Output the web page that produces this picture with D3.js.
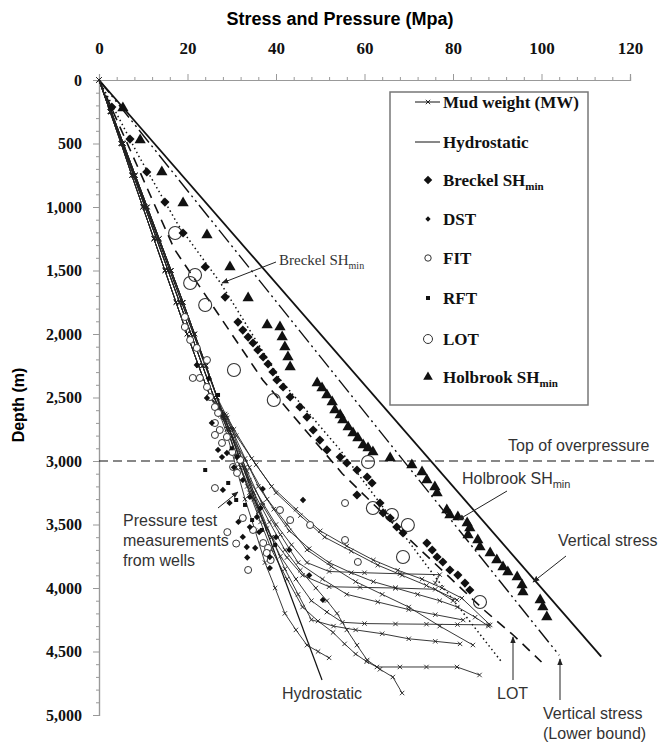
<!DOCTYPE html>
<html>
<head>
<meta charset="utf-8">
<script src="https://cdn.jsdelivr.net/npm/d3@7"></script>
<style>
  body { margin: 0; background: #fff; }
  svg { display: block; }
</style>
</head>
<body>
<svg width="661" height="742"></svg>
<script>
// stress / pressure vs depth chart
// axis values
const xTicks = [0, 20, 40, 60, 80, 100, 120];
const xMinor = [4, 8, 12, 16, 24, 28, 32, 36, 44, 48, 52, 56, 64, 68, 72, 76, 84, 88, 92, 96, 104, 108, 112, 116];
const yTicks = [0, 500, 1000, 1500, 2000, 2500, 3000, 3500, 4000, 4500, 5000];
const yMinor = [100, 200, 300, 400, 600, 700, 800, 900, 1100, 1200, 1300, 1400, 1600, 1700, 1800, 1900,
  2100, 2200, 2300, 2400, 2600, 2700, 2800, 2900, 3100, 3200, 3300, 3400, 3600, 3700, 3800, 3900,
  4100, 4200, 4300, 4400, 4600, 4700, 4800, 4900];

// trend lines [MPa, m]
const verticalStress = [[0, 0], [113.5, 4540]];
const verticalLower = [[0, 0], [104, 4530]];
const lotLine = [[0, 0], [17, 1330], [37, 2362], [55, 3100], [70.3, 3622], [87, 4173], [93.6, 4370], [100, 4583]];
const breckelLine = [[0, 0], [9, 600], [17.9, 1142], [27.5, 1600], [41, 2362], [54.5, 2913], [76.5, 3937], [91, 4583]];
const hydrostatic = [[0, 0], [50.4, 4724]];
const overpressureDepth = 3000;

// mud weight profiles: three shallow trunks + each well's deep part
const mwTopA = [[0, 0], [2.6, 250], [5.2, 500], [7.8, 750], [10.4, 1000], [13, 1250], [15.6, 1500], [18.2, 1750],
  [20.8, 2000], [23.4, 2250], [26, 2500]];
const mwTopB = [[0, 0], [2.8, 250], [5.5, 500], [8.2, 750], [10.9, 1000], [13.6, 1250], [16.3, 1500], [19, 1750],
  [21.6, 2000], [24.2, 2250], [26.7, 2500]];
const mwTopC = [[0, 0], [2.5, 250], [5, 500], [7.4, 750], [9.9, 1000], [12.4, 1250], [14.9, 1500], [17.4, 1750],
  [19.9, 2000], [22.5, 2250], [25.2, 2500]];
const mwTrunk = ['A', 'B', 'C', 'A', 'B', 'C', 'A', 'B', 'C', 'A', 'B', 'C'];
const mwWells = [
  [[28, 2650], [29.5, 2750], [31.5, 2950], [34, 3150], [37, 3330], [40, 3500], [43.5, 3660], [47, 3800], [52, 3870],
    [60, 3880], [68, 3888], [77, 3895], [76, 3960]],
  [[27.6, 2620], [29, 2750], [31, 2970], [33.5, 3200], [36, 3400], [39, 3600], [42.5, 3760], [46, 3900], [52, 3990],
    [59, 3995], [67, 4000], [76, 4010], [80, 4100]],
  [[28.2, 2640], [30, 2750], [33, 2980], [36, 3200], [39.5, 3380], [43, 3550], [47.5, 3690], [52, 3800], [57, 3880],
    [62, 3950], [67, 4000], [72, 4050], [77, 4100], [81, 4150], [85, 4230], [88, 4300]],
  [[27.8, 2650], [29.5, 2800], [32, 3050], [35, 3300], [38, 3530], [41, 3750], [44.5, 3930], [48, 4100], [51.5, 4190],
    [55, 4270], [60, 4280], [67, 4283], [74, 4285], [81, 4288], [88, 4290]],
  [[27.5, 2620], [29, 2750], [31.5, 3000], [34, 3250], [36.5, 3480], [39, 3700], [42.5, 3930], [46, 4150],
    [49.5, 4260], [52.9, 4350], [55.5, 4440], [58, 4520], [60.5, 4580], [62.8, 4622], [68, 4622], [74, 4622],
    [80.9, 4622], [86, 4685]],
  [[27.4, 2640], [29, 2800], [31, 3050], [33, 3300], [35.3, 3550], [37.5, 3800], [39.8, 4000], [42, 4200],
    [44.5, 4330], [47, 4450], [49.5, 4500], [52, 4550]],
  [[28, 2630], [29.5, 2750], [32, 3000], [35, 3250], [38.5, 3480], [42, 3700], [45.5, 3860], [49, 4000], [51.5, 4100],
    [53.8, 4200], [56, 4330], [58.3, 4450], [60.6, 4567], [63.5, 4640], [66.4, 4701], [68.5, 4827]],
  [[28.4, 2660], [30, 2800], [34, 3050], [38, 3300], [42.5, 3500], [47, 3700], [52.5, 3830], [58, 3950], [64, 4050],
    [70, 4150], [77, 4300], [84.5, 4449]],
  [[28.8, 2640], [30.5, 2750], [34.5, 2980], [39, 3200], [44.5, 3380], [50, 3550], [56, 3670], [62, 3780],
    [67.5, 3860], [73, 3930], [77.5, 4000], [82, 4080], [88.4, 4291]],
  [[28.3, 2660], [30, 2800], [33.5, 3080], [37, 3350], [41, 3580], [45, 3800], [50.5, 3930], [56, 4050], [63, 4110],
    [70, 4170], [76, 4210], [82.3, 4252]],
  [[29, 2660], [31, 2800], [35.5, 3030], [40, 3250], [45.5, 3430], [51, 3600], [57, 3710], [63, 3820], [68.5, 3900],
    [74, 3980], [80.9, 4094]],
  [[28.5, 2630], [30, 2750], [33, 3050], [36, 3350], [39, 3600], [42, 3850], [45, 4050], [48, 4250], [53, 4300],
    [58, 4330], [64, 4360], [70, 4400], [76, 4420], [81.6, 4440]]
];

// point data [MPa, m]
const breckelPts = [[2.9, 213], [7.0, 465], [10.8, 724], [14.9, 961], [19.0, 1205], [24.0, 1472], [28.5, 1709],
  [31.4, 1906], [32.5, 1969], [33.7, 2024], [34.8, 2071], [35.9, 2126], [37.1, 2181], [38.2, 2236], [39.3, 2299],
  [40.2, 2362], [41.6, 2417], [43.2, 2496], [45.4, 2575], [47.0, 2654], [48.4, 2756], [49.9, 2835], [51.5, 2913],
  [54.5, 2969], [56.0, 3016], [58.3, 3071], [60.6, 3126], [61.7, 3173], [58.3, 3268], [63.5, 3331], [64.2, 3409],
  [65.8, 3449], [67.3, 3520], [68.7, 3567], [74.1, 3646], [75.3, 3701], [76.4, 3756], [77.7, 3795], [79.3, 3858],
  [81.1, 3898], [82.7, 3961], [83.8, 4016]];
const dstPts = [[22.1, 2244], [24.4, 2504], [25.5, 2700], [26.9, 2913], [27.8, 2969], [28.9, 2937], [31.2, 2969],
  [30.5, 3050], [32.5, 3150], [28.0, 3228], [37, 3220], [34.1, 3283], [46.1, 3307], [36.5, 3370], [35.7, 3441],
  [34.1, 3520], [32.5, 3598], [40, 3600], [33.4, 3677], [35.3, 3685], [38.6, 3756], [33.5, 3760], [38.6, 3843],
  [50.6, 4094], [24.8, 2350], [29.5, 3330], [31.5, 3480], [36.2, 3560], [43, 3700], [47.5, 3900]];
const fitPts = [[19.4, 1866], [19.4, 1945], [20.6, 2047], [22.1, 2110], [24.4, 2205], [21.2, 2346], [22.8, 2346],
  [24.4, 2417], [25.1, 2496], [26.2, 2575], [26.9, 2622], [26.2, 2701], [27.3, 2756], [28.9, 2811], [26.2, 2795],
  [27.8, 2858], [30.1, 2929], [31.9, 2992], [30.3, 3047], [31.2, 3094], [26.2, 3213], [32.5, 3449], [34.8, 3543],
  [37.1, 3646], [38.2, 3685], [40.9, 3386], [43.2, 3465], [47.7, 3504], [55.6, 3331], [55.6, 3622], [58.5, 3795],
  [33.7, 3858], [29, 3560], [31, 3650], [37.9, 3724], [38.8, 3780]];
const rftPts = [[26.9, 2480], [30, 2900], [24.0, 3071], [29.2, 3173], [31.0, 3307], [33.0, 3346], [34.6, 3465],
  [36.8, 3543], [39.8, 3661]];
const lotPts = [[17.2, 1205], [21.7, 1535], [20.6, 1598], [24.0, 1772], [30.5, 2283], [39.5, 2520], [60.8, 3008],
  [66.2, 3425], [61.9, 3370], [69.8, 3504], [68.7, 3756], [86.1, 4110]];
const holbrookPts = [[5.4, 220], [9.3, 472], [14.2, 724], [19.0, 969], [24.4, 1220], [29.6, 1472], [33.7, 1717],
  [38.0, 1929], [40.9, 1945], [41.4, 2024], [42.0, 2102], [42.7, 2181], [43.2, 2260], [49.3, 2386], [50.4, 2425],
  [51.5, 2480], [52.7, 2535], [53.3, 2598], [54.5, 2638], [55.1, 2677], [56.3, 2732], [57.4, 2780], [58.5, 2819],
  [59.7, 2874], [60.8, 2898], [61.9, 2929], [65.8, 2976], [70.7, 3031], [73.0, 3087], [74.1, 3150], [75.9, 3205],
  [76.4, 3252], [78.6, 3386], [79.3, 3425], [81.1, 3441], [83.2, 3488], [83.8, 3528], [83.4, 3583], [85.6, 3622],
  [86.1, 3677], [88.4, 3724], [89.9, 3780], [91.3, 3835], [92.4, 3874], [94.5, 3913], [95.6, 3976], [95.8, 4031],
  [99.7, 4094], [100.3, 4150], [101.2, 4228]];

const svg = d3.select('svg');
const serif = '"Liberation Serif", "Times New Roman", serif';
const sans = '"Liberation Sans", Arial, sans-serif';

const x = d3.scaleLinear().domain([0, 120]).range([99, 630]);
const y = d3.scaleLinear().domain([0, 5000]).range([80, 715]);
const line = d3.line().x(d => x(d[0])).y(d => y(d[1]));

// arrow head
svg.append('defs').append('marker')
  .attr('id', 'arrow')
  .attr('viewBox', '0 0 10 10')
  .attr('refX', 9).attr('refY', 5)
  .attr('markerWidth', 7).attr('markerHeight', 7)
  .attr('orient', 'auto-start-reverse')
  .append('path').attr('d', 'M0,1L10,5L0,9z').attr('fill', '#222');

// titles
svg.append('text')
  .attr('x', 340).attr('y', 25)
  .attr('text-anchor', 'middle')
  .attr('font-family', sans).attr('font-weight', 'bold').attr('font-size', 18)
  .text('Stress and Pressure (Mpa)');

svg.append('text')
  .attr('transform', 'translate(24,405) rotate(-90)')
  .attr('text-anchor', 'middle')
  .attr('font-family', sans).attr('font-weight', 'bold').attr('font-size', 16)
  .text('Depth (m)');

// top axis
const gx = svg.append('g').attr('transform', `translate(0,${y(0)})`);
gx.call(d3.axisTop(x).tickValues(xTicks).tickSize(6).tickPadding(20).tickFormat(d3.format('d')));
gx.append('g').call(d3.axisTop(x).tickValues(xMinor).tickSize(3).tickFormat(''));
gx.selectAll('path.domain').attr('stroke', '#999').attr('stroke-width', 1.2);
gx.selectAll('line').attr('stroke', '#999');
gx.selectAll('text')
  .attr('font-family', serif).attr('font-weight', 'bold').attr('font-size', 17).attr('fill', '#111');

// left axis
const gy = svg.append('g').attr('transform', `translate(${x(0)},0)`);
gy.call(d3.axisLeft(y).tickValues(yTicks).tickSize(6).tickPadding(11).tickFormat(d3.format(',')));
gy.append('g').call(d3.axisLeft(y).tickValues(yMinor).tickSize(3).tickFormat(''));
gy.selectAll('path.domain').attr('stroke', '#999').attr('stroke-width', 1.2);
gy.selectAll('line').attr('stroke', '#999');
gy.selectAll('text')
  .attr('font-family', serif).attr('font-weight', 'bold').attr('font-size', 16).attr('fill', '#111');

// trend lines
const plot = svg.append('g');
plot.append('path').datum(verticalStress).attr('d', line)
  .attr('fill', 'none').attr('stroke', '#111').attr('stroke-width', 1.8);
plot.append('path').datum(verticalLower).attr('d', line)
  .attr('fill', 'none').attr('stroke', '#111').attr('stroke-width', 1.4)
  .attr('stroke-dasharray', '16,4,2,4,2,4');
plot.append('path').datum(lotLine).attr('d', line)
  .attr('fill', 'none').attr('stroke', '#111').attr('stroke-width', 1.6)
  .attr('stroke-dasharray', '10,7');
plot.append('path').datum(breckelLine).attr('d', line)
  .attr('fill', 'none').attr('stroke', '#111').attr('stroke-width', 1.5)
  .attr('stroke-dasharray', '1.5,3');
plot.append('path').datum(hydrostatic).attr('d', line)
  .attr('fill', 'none').attr('stroke', '#111').attr('stroke-width', 1.2);

// mud weight wells
const trunks = {A: mwTopA, B: mwTopB, C: mwTopC};
const wells = mwWells.map((w, i) => trunks[mwTrunk[i]].concat(w));
plot.append('g').selectAll('path').data(wells).enter().append('path')
  .attr('d', line)
  .attr('fill', 'none').attr('stroke', '#222').attr('stroke-width', 0.9);
const crossPath = 'M-2.2,-2.2L2.2,2.2M-2.2,2.2L2.2,-2.2';
plot.append('g').selectAll('path').data(wells.flat()).enter().append('path')
  .attr('transform', d => `translate(${x(d[0])},${y(d[1])})`)
  .attr('d', crossPath).attr('stroke', '#222').attr('stroke-width', 0.9);

// top of overpressure
plot.append('line')
  .attr('x1', x(0)).attr('x2', 656)
  .attr('y1', y(overpressureDepth)).attr('y2', y(overpressureDepth))
  .attr('stroke', '#111').attr('stroke-width', 1.2).attr('stroke-dasharray', '9,5');

// point series
const diamond = d3.symbol().type(d3.symbolSquare);
const pts = svg.append('g');
pts.selectAll('.fit').data(fitPts).enter().append('circle')
  .attr('cx', d => x(d[0])).attr('cy', d => y(d[1])).attr('r', 3.5)
  .attr('fill', 'white').attr('stroke', '#333').attr('stroke-width', 1);
pts.selectAll('.lot').data(lotPts).enter().append('circle')
  .attr('cx', d => x(d[0])).attr('cy', d => y(d[1])).attr('r', 6.5)
  .attr('fill', 'none').attr('stroke', '#333').attr('stroke-width', 1.1);
pts.selectAll('.dst').data(dstPts).enter().append('path')
  .attr('transform', d => `translate(${x(d[0])},${y(d[1])}) rotate(45)`)
  .attr('d', diamond.size(20)()).attr('fill', '#111');
pts.selectAll('.rft').data(rftPts).enter().append('rect')
  .attr('x', d => x(d[0]) - 2).attr('y', d => y(d[1]) - 2)
  .attr('width', 4).attr('height', 4).attr('fill', '#111');
pts.selectAll('.breckel').data(breckelPts).enter().append('path')
  .attr('transform', d => `translate(${x(d[0])},${y(d[1])}) rotate(45)`)
  .attr('d', diamond.size(42)()).attr('fill', '#111');
pts.selectAll('.holbrook').data(holbrookPts).enter().append('path')
  .attr('transform', d => `translate(${x(d[0])},${y(d[1])})`)
  .attr('d', d3.symbol().type(d3.symbolTriangle).size(55)()).attr('fill', '#111');

// legend
const legend = svg.append('g');
legend.append('rect')
  .attr('x', 390).attr('y', 92).attr('width', 198).attr('height', 313)
  .attr('fill', 'white').attr('stroke', '#777').attr('stroke-width', 1.5);
const legendItems = [
  {key: 'mw', label: 'Mud weight (MW)', sub: '', y: 102},
  {key: 'hyd', label: 'Hydrostatic', sub: '', y: 142},
  {key: 'breckel', label: 'Breckel SH', sub: 'min', y: 180},
  {key: 'dst', label: 'DST', sub: '', y: 219},
  {key: 'fit', label: 'FIT', sub: '', y: 258},
  {key: 'rft', label: 'RFT', sub: '', y: 298},
  {key: 'lot', label: 'LOT', sub: '', y: 339},
  {key: 'holbrook', label: 'Holbrook SH', sub: 'min', y: 377}
];
legendItems.forEach(it => {
  const g = legend.append('g').attr('transform', `translate(428,${it.y})`);
  if (it.key === 'mw' || it.key === 'hyd') {
    g.append('line').attr('x1', -13).attr('x2', 12).attr('stroke', '#111').attr('stroke-width', 1);
    if (it.key === 'mw') g.append('path').attr('d', crossPath).attr('stroke', '#111').attr('stroke-width', 0.9);
  } else if (it.key === 'breckel') {
    g.append('path').attr('transform', 'rotate(45)').attr('d', diamond.size(36)()).attr('fill', '#111');
  } else if (it.key === 'dst') {
    g.append('path').attr('transform', 'rotate(45)').attr('d', diamond.size(14)()).attr('fill', '#111');
  } else if (it.key === 'fit') {
    g.append('circle').attr('r', 3.2).attr('fill', 'none').attr('stroke', '#333');
  } else if (it.key === 'rft') {
    g.append('rect').attr('x', -2).attr('y', -2).attr('width', 4).attr('height', 4).attr('fill', '#111');
  } else if (it.key === 'lot') {
    g.append('circle').attr('r', 4.5).attr('fill', 'none').attr('stroke', '#333');
  } else {
    g.append('path').attr('d', d3.symbol().type(d3.symbolTriangle).size(40)()).attr('fill', '#111');
  }
  const t = legend.append('text')
    .attr('x', 443).attr('y', it.y + 6)
    .attr('font-family', serif).attr('font-weight', 'bold').attr('font-size', 17).attr('fill', '#111')
    .text(it.label);
  if (it.sub) t.append('tspan').attr('dy', 4).attr('font-size', 11).text(it.sub);
});

// annotations
const notes = svg.append('g').attr('font-family', sans).attr('font-size', 16).attr('fill', '#333');
const arrow = (x1, y1, x2, y2) => notes.append('line')
  .attr('x1', x1).attr('y1', y1).attr('x2', x2).attr('y2', y2)
  .attr('stroke', '#222').attr('stroke-width', 1).attr('marker-end', 'url(#arrow)');

const br = notes.append('text').attr('x', 279).attr('y', 265)
  .attr('font-family', serif).attr('font-size', 15).text('Breckel  SH');
br.append('tspan').attr('dy', 4).attr('font-size', 10).text('min');
arrow(276, 262, 222, 283);

notes.append('text').attr('x', 508).attr('y', 451).text('Top of overpressure');

const hb = notes.append('text').attr('x', 462).attr('y', 484).text('Holbrook  SH');
hb.append('tspan').attr('dy', 4).attr('font-size', 11).text('min');
arrow(507, 491, 458, 520);

notes.append('text').attr('x', 558).attr('y', 546).text('Vertical stress');
arrow(566, 556, 533, 582);

notes.append('text').attr('x', 123).attr('y', 526).text('Pressure test');
notes.append('text').attr('x', 123).attr('y', 546).text('measurements');
notes.append('text').attr('x', 123).attr('y', 566).text('from wells');
arrow(218, 508, 238, 492);

notes.append('text').attr('x', 282).attr('y', 699).text('Hydrostatic');
notes.append('text').attr('x', 497).attr('y', 699).text('LOT');
arrow(513, 680, 513, 637);

notes.append('text').attr('x', 543).attr('y', 719).text('Vertical stress');
notes.append('text').attr('x', 543).attr('y', 739).text('(Lower  bound)');
arrow(560, 700, 560, 659);
</script>
</body>
</html>
